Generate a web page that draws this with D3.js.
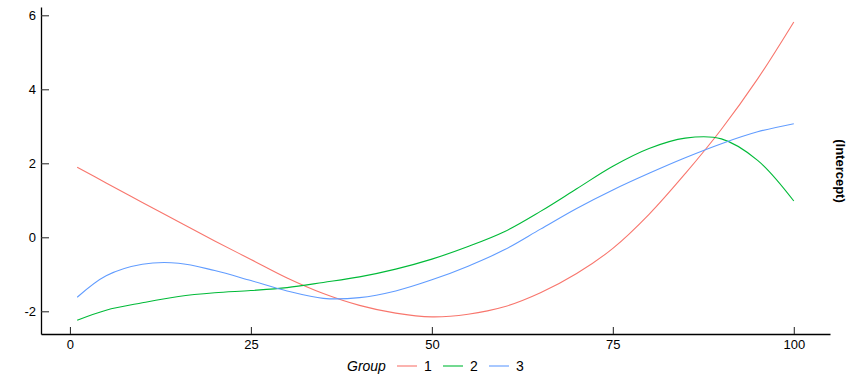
<!DOCTYPE html>
<html>
<head>
<meta charset="utf-8">
<style>
    body { margin: 0; background: #fff; }
    text { font-family: "Liberation Sans", Arial, sans-serif; }
</style>
</head>
<body>
<svg id="chart" width="864" height="384"></svg>
<script src="https://d3js.org/d3.v7.min.js"></script>
<script>
    // data
    const xs = [1, 5, 10, 15, 20, 25, 30, 35, 40, 45, 50, 55, 60, 65, 70, 75, 80, 85, 90, 95, 100];
    const group1 = [1.89, 1.47, 0.94, 0.42, -0.10, -0.60, -1.10, -1.52, -1.84, -2.05, -2.15, -2.08, -1.88, -1.50, -0.98, -0.30, 0.62, 1.72, 2.92, 4.28, 5.82];
    const group2 = [-2.24, -1.97, -1.77, -1.60, -1.50, -1.44, -1.36, -1.22, -1.07, -0.86, -0.59, -0.25, 0.15, 0.70, 1.31, 1.92, 2.40, 2.68, 2.66, 2.08, 0.98];
    const group3 = [-1.62, -1.04, -0.73, -0.70, -0.90, -1.17, -1.45, -1.65, -1.63, -1.45, -1.15, -0.78, -0.34, 0.22, 0.78, 1.28, 1.73, 2.15, 2.53, 2.85, 3.07];
    const groups = ["1", "2", "3"];
    const xTicks = [0, 25, 50, 75, 100];
    const yTicks = [-2, 0, 2, 4, 6];

    const colors = d3.scaleOrdinal().domain(groups).range(["#F8766D", "#00BA38", "#619CFF"]);
    const series = [group1, group2, group3].map((vals, i) => ({
        name: groups[i],
        points: xs.map((x, j) => ({ x: x, y: vals[j] }))
    }));

    const svg = d3.select("#chart");

    let x = d3.scaleLinear().domain([-4, 105]).range([41, 830]);
    let y = d3.scaleLinear().domain([-2.614, 6.224]).range([334, 7]);

    // lines
    let line = d3.line()
        .x((d) => x(d.x))
        .y((d) => y(d.y))
        .curve(d3.curveCatmullRom);

    svg.append("g").selectAll("path").data(series)
        .enter()
        .append("path")
        .attr("fill", "none")
        .attr("stroke", (s) => colors(s.name))
        .attr("stroke-width", 1.1)
        .attr("d", (s) => line(s.points));

    // axes, ticks inside
    let xAxis = d3.axisBottom(x).tickValues(xTicks).tickSizeInner(-7).tickSizeOuter(0).tickPadding(6)
        .tickFormat((d) => String(d));
    let gx = svg.append("g").attr("transform", "translate(0, 334)").call(xAxis);
    let yAxis = d3.axisLeft(y).tickValues(yTicks).tickSizeInner(-8).tickSizeOuter(0).tickPadding(5)
        .tickFormat((d) => String(d));
    let gy = svg.append("g").attr("transform", "translate(41, 0)").call(yAxis);

    [gx, gy].forEach((g) => {
        g.select(".domain").attr("stroke", "#000").attr("stroke-width", 1.3);
        g.selectAll(".tick line").attr("stroke", "#333").attr("stroke-width", 1.1);
        g.selectAll(".tick text").attr("fill", "#000").style("font-size", "13px").style("font-family", "Liberation Sans, Arial, sans-serif");
    });
    gy.selectAll(".tick text").attr("x", -5);

    // right side label
    svg.append("text")
        .attr("transform", "translate(840, 171) rotate(90)")
        .attr("text-anchor", "middle")
        .attr("dominant-baseline", "central")
        .style("font-size", "13px")
        .style("font-weight", "bold")
        .text("(Intercept)");

    // legend
    let legend = svg.append("g").attr("transform", "translate(0, 366)");
    legend.append("text")
        .attr("x", 347)
        .attr("y", 5)
        .style("font-size", "14px")
        .style("font-style", "italic")
        .text("Group");
    let keyX = [397, 443, 489];
    let item = legend.selectAll("g.key").data(groups)
        .enter()
        .append("g")
        .attr("class", "key")
        .attr("transform", (g, i) => "translate(" + keyX[i] + ", 0)");
    item.append("line")
        .attr("x1", 0).attr("x2", 20)
        .attr("y1", 0).attr("y2", 0)
        .attr("stroke", (g) => colors(g))
        .attr("stroke-width", 1.1);
    item.append("text")
        .attr("x", 27)
        .attr("y", 5)
        .style("font-size", "14px")
        .text((g) => g);
</script>
</body>
</html>
